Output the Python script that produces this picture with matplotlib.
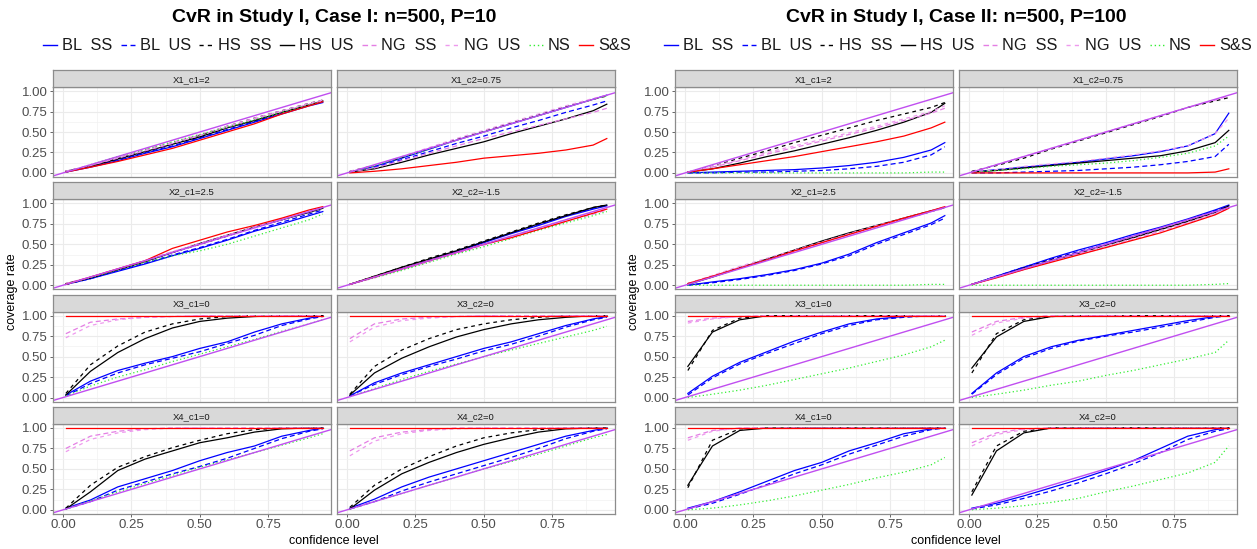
import numpy as np
import matplotlib
matplotlib.use("Agg")
import matplotlib.pyplot as plt
from matplotlib.lines import Line2D
from matplotlib.transforms import Bbox

conf_level = [0.01, 0.1, 0.2, 0.3, 0.4, 0.5, 0.6, 0.7, 0.8, 0.9, 0.95]

methods = ["BL  SS", "BL  US", "HS  SS", "HS  US", "NG  SS", "NG  US", "NS", "S&S"]
panel_names = ["X1_c1=2", "X1_c2=0.75", "X2_c1=2.5", "X2_c2=-1.5",
               "X3_c1=0", "X3_c2=0", "X4_c1=0", "X4_c2=0"]
titles = ["CvR in Study I, Case I: n=500, P=10",
          "CvR in Study I, Case II: n=500, P=100"]

ONES = [1.0] * 11

# ---- Case I (P=10) : rows follow `methods` order
c1_x1_c1 = [[0.01, 0.07, 0.15, 0.24, 0.32, 0.42, 0.52, 0.62, 0.72, 0.82, 0.86],
            [0.01, 0.08, 0.16, 0.25, 0.33, 0.43, 0.53, 0.63, 0.73, 0.83, 0.87],
            [0.02, 0.09, 0.18, 0.28, 0.37, 0.46, 0.57, 0.67, 0.76, 0.85, 0.89],
            [0.02, 0.08, 0.17, 0.26, 0.35, 0.44, 0.55, 0.64, 0.74, 0.83, 0.88],
            [0.02, 0.09, 0.18, 0.27, 0.36, 0.46, 0.56, 0.66, 0.75, 0.84, 0.88],
            [0.02, 0.09, 0.19, 0.28, 0.37, 0.47, 0.57, 0.67, 0.76, 0.85, 0.89],
            [0.01, 0.10, 0.20, 0.29, 0.38, 0.47, 0.56, 0.65, 0.74, 0.83, 0.87],
            [0.01, 0.07, 0.14, 0.22, 0.30, 0.40, 0.50, 0.60, 0.72, 0.82, 0.87]]
c1_x1_c2 = [[0.01, 0.08, 0.18, 0.29, 0.40, 0.50, 0.60, 0.70, 0.80, 0.90, 0.95],
            [0.01, 0.07, 0.16, 0.26, 0.36, 0.45, 0.55, 0.64, 0.74, 0.83, 0.88],
            [0.02, 0.09, 0.19, 0.30, 0.41, 0.51, 0.61, 0.71, 0.81, 0.90, 0.94],
            [0.01, 0.05, 0.13, 0.22, 0.30, 0.38, 0.48, 0.57, 0.66, 0.76, 0.84],
            [0.01, 0.06, 0.15, 0.24, 0.33, 0.42, 0.50, 0.58, 0.66, 0.74, 0.79],
            [0.02, 0.09, 0.20, 0.31, 0.42, 0.52, 0.62, 0.72, 0.82, 0.91, 0.95],
            [0.01, 0.09, 0.19, 0.29, 0.40, 0.50, 0.60, 0.70, 0.80, 0.90, 0.94],
            [0.00, 0.02, 0.05, 0.09, 0.13, 0.18, 0.21, 0.24, 0.28, 0.34, 0.42]]
c1_x2_c1 = [[0.01, 0.08, 0.17, 0.26, 0.36, 0.45, 0.55, 0.66, 0.75, 0.85, 0.90],
            [0.01, 0.08, 0.18, 0.27, 0.37, 0.46, 0.56, 0.67, 0.77, 0.87, 0.92],
            [0.01, 0.09, 0.19, 0.29, 0.40, 0.50, 0.60, 0.71, 0.80, 0.90, 0.95],
            [0.02, 0.09, 0.19, 0.29, 0.40, 0.51, 0.61, 0.71, 0.80, 0.89, 0.94],
            [0.02, 0.10, 0.20, 0.30, 0.41, 0.50, 0.61, 0.71, 0.81, 0.90, 0.95],
            [0.02, 0.10, 0.20, 0.30, 0.41, 0.51, 0.61, 0.71, 0.81, 0.91, 0.95],
            [0.01, 0.09, 0.19, 0.28, 0.36, 0.42, 0.50, 0.60, 0.70, 0.80, 0.87],
            [0.01, 0.10, 0.20, 0.30, 0.45, 0.55, 0.65, 0.73, 0.82, 0.92, 0.96]]
c1_x2_c2 = [[0.01, 0.10, 0.20, 0.30, 0.41, 0.52, 0.63, 0.73, 0.84, 0.93, 0.97],
            [0.01, 0.10, 0.20, 0.31, 0.42, 0.53, 0.64, 0.74, 0.85, 0.94, 0.98],
            [0.01, 0.11, 0.22, 0.33, 0.43, 0.54, 0.65, 0.76, 0.86, 0.95, 0.98],
            [0.01, 0.11, 0.22, 0.32, 0.42, 0.53, 0.64, 0.75, 0.85, 0.95, 0.98],
            [0.01, 0.09, 0.19, 0.29, 0.39, 0.49, 0.59, 0.69, 0.78, 0.87, 0.92],
            [0.01, 0.10, 0.19, 0.29, 0.40, 0.50, 0.60, 0.70, 0.80, 0.89, 0.94],
            [0.01, 0.09, 0.18, 0.28, 0.38, 0.47, 0.57, 0.67, 0.76, 0.85, 0.90],
            [0.01, 0.10, 0.20, 0.30, 0.40, 0.50, 0.58, 0.68, 0.78, 0.88, 0.93]]
c1_x3_c1 = [[0.03, 0.20, 0.33, 0.42, 0.50, 0.60, 0.68, 0.80, 0.90, 0.97, 1.00],
            [0.02, 0.17, 0.30, 0.40, 0.48, 0.56, 0.66, 0.76, 0.88, 0.96, 0.99],
            [0.05, 0.40, 0.63, 0.80, 0.90, 0.96, 0.99, 1.00, 1.00, 1.00, 1.00],
            [0.03, 0.32, 0.55, 0.72, 0.85, 0.93, 0.97, 0.99, 1.00, 1.00, 1.00],
            [0.78, 0.92, 0.96, 0.98, 0.99, 1.00, 1.00, 1.00, 1.00, 1.00, 1.00],
            [0.73, 0.88, 0.95, 0.98, 0.99, 1.00, 1.00, 1.00, 1.00, 1.00, 1.00],
            [0.02, 0.14, 0.25, 0.34, 0.44, 0.53, 0.62, 0.71, 0.81, 0.90, 0.95],
            ONES]
c1_x3_c2 = [[0.02, 0.18, 0.30, 0.40, 0.50, 0.60, 0.68, 0.78, 0.88, 0.96, 0.99],
            [0.02, 0.16, 0.28, 0.38, 0.47, 0.57, 0.65, 0.75, 0.86, 0.95, 0.98],
            [0.04, 0.38, 0.58, 0.72, 0.83, 0.90, 0.95, 0.98, 1.00, 1.00, 1.00],
            [0.03, 0.30, 0.48, 0.62, 0.74, 0.83, 0.90, 0.95, 0.98, 1.00, 1.00],
            [0.72, 0.90, 0.96, 0.98, 0.99, 1.00, 1.00, 1.00, 1.00, 1.00, 1.00],
            [0.68, 0.86, 0.94, 0.97, 0.99, 1.00, 1.00, 1.00, 1.00, 1.00, 1.00],
            [0.01, 0.11, 0.22, 0.32, 0.41, 0.50, 0.58, 0.66, 0.74, 0.82, 0.87],
            ONES]
c1_x4_c1 = [[0.02, 0.12, 0.28, 0.38, 0.48, 0.60, 0.70, 0.78, 0.90, 0.97, 1.00],
            [0.01, 0.10, 0.24, 0.34, 0.44, 0.53, 0.63, 0.75, 0.87, 0.96, 0.99],
            [0.02, 0.30, 0.52, 0.65, 0.76, 0.85, 0.93, 0.98, 1.00, 1.00, 1.00],
            [0.01, 0.22, 0.48, 0.62, 0.72, 0.82, 0.88, 0.95, 0.99, 1.00, 1.00],
            [0.75, 0.90, 0.96, 0.99, 1.00, 1.00, 1.00, 1.00, 1.00, 1.00, 1.00],
            [0.71, 0.86, 0.94, 0.98, 1.00, 1.00, 1.00, 1.00, 1.00, 1.00, 1.00],
            [0.01, 0.11, 0.22, 0.32, 0.42, 0.52, 0.61, 0.70, 0.79, 0.88, 0.93],
            ONES]
c1_x4_c2 = [[0.02, 0.13, 0.28, 0.40, 0.50, 0.60, 0.70, 0.80, 0.90, 0.97, 1.00],
            [0.01, 0.10, 0.23, 0.34, 0.44, 0.54, 0.64, 0.75, 0.87, 0.96, 0.99],
            [0.03, 0.30, 0.50, 0.65, 0.78, 0.88, 0.94, 0.98, 1.00, 1.00, 1.00],
            [0.01, 0.24, 0.44, 0.58, 0.70, 0.80, 0.88, 0.95, 0.99, 1.00, 1.00],
            [0.72, 0.88, 0.95, 0.98, 1.00, 1.00, 1.00, 1.00, 1.00, 1.00, 1.00],
            [0.66, 0.84, 0.93, 0.97, 0.99, 1.00, 1.00, 1.00, 1.00, 1.00, 1.00],
            [0.01, 0.10, 0.20, 0.30, 0.40, 0.50, 0.59, 0.68, 0.78, 0.88, 0.92],
            ONES]

# ---- Case II (P=100)
c2_x1_c1 = [[0.00, 0.01, 0.02, 0.03, 0.04, 0.06, 0.09, 0.13, 0.19, 0.28, 0.37],
            [0.00, 0.00, 0.01, 0.01, 0.02, 0.03, 0.05, 0.08, 0.13, 0.22, 0.32],
            [0.01, 0.08, 0.18, 0.27, 0.37, 0.46, 0.55, 0.64, 0.72, 0.80, 0.86],
            [0.01, 0.05, 0.12, 0.20, 0.27, 0.35, 0.43, 0.52, 0.62, 0.74, 0.85],
            [0.01, 0.07, 0.15, 0.23, 0.31, 0.39, 0.47, 0.55, 0.64, 0.73, 0.79],
            [0.01, 0.08, 0.16, 0.25, 0.33, 0.41, 0.49, 0.57, 0.66, 0.75, 0.82],
            [0.00, 0.00, 0.00, 0.00, 0.00, 0.00, 0.00, 0.00, 0.00, 0.01, 0.01],
            [0.01, 0.05, 0.10, 0.15, 0.20, 0.26, 0.32, 0.38, 0.45, 0.55, 0.62]]
c2_x1_c2 = [[0.01, 0.04, 0.07, 0.10, 0.13, 0.17, 0.21, 0.26, 0.33, 0.48, 0.73],
            [0.00, 0.00, 0.01, 0.02, 0.03, 0.05, 0.07, 0.10, 0.14, 0.20, 0.35],
            [0.02, 0.09, 0.18, 0.29, 0.39, 0.49, 0.59, 0.69, 0.80, 0.88, 0.92],
            [0.01, 0.03, 0.06, 0.09, 0.12, 0.15, 0.18, 0.21, 0.27, 0.37, 0.52],
            [0.01, 0.10, 0.20, 0.30, 0.40, 0.50, 0.60, 0.70, 0.80, 0.89, 0.94],
            [0.01, 0.04, 0.08, 0.11, 0.14, 0.18, 0.22, 0.27, 0.33, 0.48, 0.67],
            [0.01, 0.03, 0.05, 0.08, 0.10, 0.12, 0.15, 0.19, 0.24, 0.33, 0.45],
            [0.00, 0.00, 0.00, 0.00, 0.00, 0.00, 0.00, 0.00, 0.00, 0.01, 0.05]]
c2_x2_c1 = [[0.00, 0.04, 0.08, 0.13, 0.19, 0.27, 0.38, 0.52, 0.64, 0.76, 0.85],
            [0.00, 0.03, 0.07, 0.12, 0.18, 0.26, 0.36, 0.50, 0.62, 0.74, 0.82],
            [0.02, 0.11, 0.22, 0.32, 0.43, 0.53, 0.63, 0.72, 0.81, 0.90, 0.95],
            [0.01, 0.10, 0.21, 0.32, 0.43, 0.54, 0.64, 0.73, 0.82, 0.91, 0.95],
            [0.02, 0.11, 0.22, 0.31, 0.41, 0.52, 0.62, 0.72, 0.81, 0.90, 0.94],
            [0.02, 0.12, 0.23, 0.33, 0.43, 0.53, 0.63, 0.73, 0.82, 0.91, 0.96],
            [0.00, 0.00, 0.00, 0.00, 0.00, 0.00, 0.00, 0.00, 0.00, 0.01, 0.01],
            [0.02, 0.11, 0.21, 0.31, 0.42, 0.52, 0.62, 0.72, 0.82, 0.91, 0.96]]
c2_x2_c2 = [[0.01, 0.11, 0.22, 0.33, 0.43, 0.52, 0.62, 0.71, 0.81, 0.92, 0.98],
            [0.01, 0.11, 0.22, 0.32, 0.41, 0.50, 0.60, 0.70, 0.80, 0.91, 0.97],
            [0.01, 0.10, 0.21, 0.31, 0.40, 0.48, 0.58, 0.68, 0.78, 0.89, 0.96],
            [0.01, 0.10, 0.20, 0.30, 0.39, 0.49, 0.58, 0.68, 0.78, 0.89, 0.97],
            [0.01, 0.10, 0.19, 0.29, 0.38, 0.46, 0.56, 0.66, 0.76, 0.87, 0.94],
            [0.01, 0.10, 0.20, 0.30, 0.39, 0.48, 0.57, 0.67, 0.77, 0.88, 0.95],
            [0.00, 0.00, 0.00, 0.00, 0.00, 0.00, 0.00, 0.00, 0.00, 0.01, 0.02],
            [0.01, 0.09, 0.19, 0.28, 0.37, 0.46, 0.55, 0.64, 0.75, 0.86, 0.94]]
c2_x3_c1 = [[0.05, 0.26, 0.43, 0.56, 0.69, 0.80, 0.90, 0.96, 0.99, 1.00, 1.00],
            [0.03, 0.24, 0.41, 0.54, 0.66, 0.78, 0.88, 0.95, 0.98, 1.00, 1.00],
            [0.33, 0.82, 0.97, 1.00, 1.00, 1.00, 1.00, 1.00, 1.00, 1.00, 1.00],
            [0.38, 0.80, 0.95, 1.00, 1.00, 1.00, 1.00, 1.00, 1.00, 1.00, 1.00],
            [0.93, 0.97, 0.99, 1.00, 1.00, 1.00, 1.00, 1.00, 1.00, 1.00, 1.00],
            [0.91, 0.96, 0.99, 1.00, 1.00, 1.00, 1.00, 1.00, 1.00, 1.00, 1.00],
            [0.00, 0.04, 0.09, 0.15, 0.22, 0.29, 0.36, 0.44, 0.52, 0.62, 0.70],
            ONES]
c2_x3_c2 = [[0.05, 0.30, 0.50, 0.62, 0.70, 0.76, 0.82, 0.88, 0.94, 0.99, 1.00],
            [0.04, 0.28, 0.48, 0.60, 0.69, 0.75, 0.80, 0.86, 0.92, 0.98, 1.00],
            [0.30, 0.78, 0.95, 0.99, 1.00, 1.00, 1.00, 1.00, 1.00, 1.00, 1.00],
            [0.36, 0.74, 0.93, 0.99, 1.00, 1.00, 1.00, 1.00, 1.00, 1.00, 1.00],
            [0.80, 0.93, 0.98, 1.00, 1.00, 1.00, 1.00, 1.00, 1.00, 1.00, 1.00],
            [0.76, 0.91, 0.97, 1.00, 1.00, 1.00, 1.00, 1.00, 1.00, 1.00, 1.00],
            [0.00, 0.04, 0.09, 0.15, 0.20, 0.27, 0.33, 0.40, 0.47, 0.55, 0.70],
            ONES]
c2_x4_c1 = [[0.02, 0.10, 0.22, 0.35, 0.48, 0.58, 0.72, 0.82, 0.93, 0.99, 1.00],
            [0.01, 0.08, 0.19, 0.31, 0.44, 0.55, 0.68, 0.79, 0.90, 0.98, 1.00],
            [0.27, 0.85, 0.99, 1.00, 1.00, 1.00, 1.00, 1.00, 1.00, 1.00, 1.00],
            [0.30, 0.78, 0.97, 1.00, 1.00, 1.00, 1.00, 1.00, 1.00, 1.00, 1.00],
            [0.88, 0.97, 1.00, 1.00, 1.00, 1.00, 1.00, 1.00, 1.00, 1.00, 1.00],
            [0.85, 0.96, 1.00, 1.00, 1.00, 1.00, 1.00, 1.00, 1.00, 1.00, 1.00],
            [0.00, 0.02, 0.06, 0.11, 0.17, 0.24, 0.31, 0.39, 0.46, 0.55, 0.64],
            ONES]
c2_x4_c2 = [[0.02, 0.08, 0.17, 0.27, 0.37, 0.48, 0.60, 0.75, 0.90, 0.98, 1.00],
            [0.01, 0.06, 0.14, 0.23, 0.33, 0.44, 0.56, 0.70, 0.86, 0.96, 0.99],
            [0.22, 0.78, 0.96, 1.00, 1.00, 1.00, 1.00, 1.00, 1.00, 1.00, 1.00],
            [0.18, 0.72, 0.94, 1.00, 1.00, 1.00, 1.00, 1.00, 1.00, 1.00, 1.00],
            [0.82, 0.94, 0.99, 1.00, 1.00, 1.00, 1.00, 1.00, 1.00, 1.00, 1.00],
            [0.78, 0.92, 0.98, 1.00, 1.00, 1.00, 1.00, 1.00, 1.00, 1.00, 1.00],
            [0.00, 0.02, 0.05, 0.09, 0.14, 0.22, 0.29, 0.37, 0.45, 0.58, 0.78],
            ONES]

case1 = [c1_x1_c1, c1_x1_c2, c1_x2_c1, c1_x2_c2, c1_x3_c1, c1_x3_c2, c1_x4_c1, c1_x4_c2]
case2 = [c2_x1_c1, c2_x1_c2, c2_x2_c1, c2_x2_c2, c2_x3_c1, c2_x3_c2, c2_x4_c1, c2_x4_c2]

# styles per method
m_colors = ["#0000FF", "#0000FF", "#000000", "#000000", "#E47EE4", "#EE9AEE", "#33EE33", "#FF0000"]
m_dash = ["-", (0, (4, 2.5)), (0, (3, 3)), "-", (0, (4, 2.5)), (0, (3, 3)), (0, (1, 2)), "-"]
diag_color = "#C04EF0"

plt.rcParams['font.family'] = ['Liberation Sans', 'DejaVu Sans']

W, H = 1257, 549
fig = plt.figure(figsize=(W / 100, H / 100), dpi=100)

def px_box(x0, y0, x1, y1):
    # pixel box (top-left origin) -> figure fraction rect
    return [x0 / W, 1 - y1 / H, (x1 - x0) / W, (y1 - y0) / H]

col_px = [[(53, 331), (337, 615)], [(675, 953), (959, 1237)]]
row_top = [70 + i * 112.3 for i in range(4)]
strip_h, panel_h = 17, 90
border = "#8C8C8C"

for f, data in enumerate([case1, case2]):
    for k, pdata in enumerate(data):
        r, c = divmod(k, 2)
        x0, x1 = col_px[f][c]
        yt = row_top[r]
        ax = fig.add_axes(px_box(x0, yt + strip_h, x1, yt + strip_h + panel_h))
        for m in range(len(methods)):
            ax.plot(conf_level, pdata[m], color=m_colors[m], linestyle=m_dash[m], lw=0.9)
        ax.axline((0, 0), (1, 1), color=diag_color, lw=1.0)
        ax.set_xlim(-0.037, 0.98)
        ax.set_ylim(-0.05, 1.05)
        ax.set_xticks([0, 0.25, 0.5, 0.75])
        ax.set_yticks([0, 0.25, 0.5, 0.75, 1.0])
        ax.set_xticks([0.125, 0.375, 0.625, 0.875], minor=True)
        ax.set_yticks([0.125, 0.375, 0.625, 0.875], minor=True)
        ax.grid(which="major", color="#EBEBEB", lw=0.8)
        ax.grid(which="minor", color="#F2F2F2", lw=0.5)
        ax.set_axisbelow(True)
        for s in ax.spines.values():
            s.set_color(border)
            s.set_linewidth(0.9)
        ax.tick_params(which="major", length=2.5, width=0.6, color="#4D4D4D",
                       labelsize=9.5, labelcolor="#4D4D4D", pad=1.5)
        ax.tick_params(which="minor", length=0)
        if c == 0:
            ax.set_yticklabels(["0.00", "0.25", "0.50", "0.75", "1.00"])
        else:
            ax.tick_params(axis="y", which="major", length=0, labelleft=False)
        if r == 3:
            ax.set_xticklabels(["0.00", "0.25", "0.50", "0.75"])
        else:
            ax.tick_params(axis="x", which="major", length=0, labelbottom=False)

        sax = fig.add_axes(px_box(x0, yt, x1, yt + strip_h))
        sax.set_facecolor("#D9D9D9")
        sax.set_xticks([])
        sax.set_yticks([])
        for s in sax.spines.values():
            s.set_color(border)
            s.set_linewidth(0.9)
        sax.text(0.5, 0.45, panel_names[k], ha="center", va="center",
                 fontsize=6.8, color="#1A1A1A", transform=sax.transAxes)

    cx = (col_px[f][0][0] + col_px[f][1][1]) / 2
    fig.text(cx / W, 1 - 18 / H, titles[f], ha="center", va="center",
             fontsize=14, fontweight="bold")
    fig.text(cx / W, 1 - 541 / H, "confidence level", ha="center", va="center", fontsize=9)
    ylab_x = col_px[f][0][0] - 41
    fig.text(ylab_x / W, 1 - 292 / H, "coverage rate", ha="center", va="center",
             rotation=90, fontsize=9)

# legends, drawn item by item so the left one can be cut at the image boundary
renderer = fig.canvas.get_renderer()
leg_start = [43, 664]
leg_clip = [Bbox.from_extents(0, 0, 630, H), Bbox.from_extents(630, 0, W, H)]
leg_y = H - 45
for f in range(2):
    x = leg_start[f]
    for m, name in enumerate(methods):
        ln = Line2D([x, x + 14], [leg_y, leg_y], color=m_colors[m], linestyle=m_dash[m],
                    lw=1.0, transform=None)
        ln.set_clip_box(leg_clip[f])
        fig.add_artist(ln)
        t = fig.text((x + 19) / W, leg_y / H, name, ha="left", va="center",
                     fontsize=11.8, color="#1A1A1A")
        t.set_clip_box(leg_clip[f])
        t.set_clip_on(True)
        bb = t.get_window_extent(renderer)
        x = bb.x1 + 8.5

fig.savefig("out.png", dpi=100)
